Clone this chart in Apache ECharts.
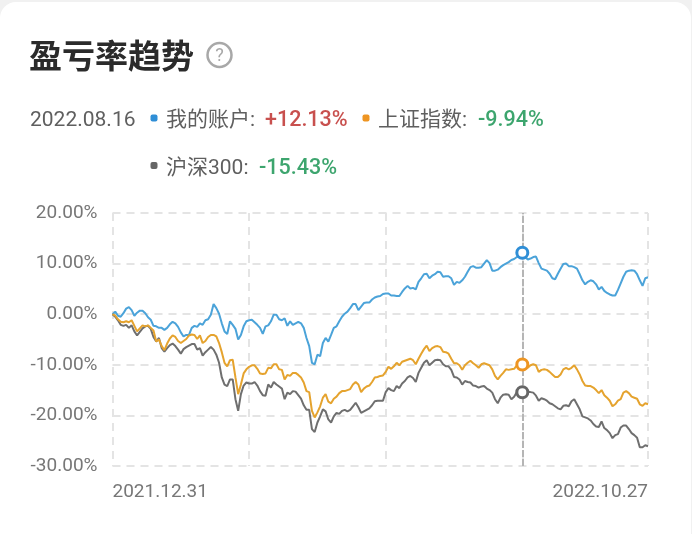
<!DOCTYPE html>
<html><head><meta charset="utf-8">
<style>html,body{margin:0;padding:0;background:#f1f1f1}#c{width:692px;height:534px}</style>
<script src="https://cdn.jsdelivr.net/npm/echarts@6/dist/echarts.min.js"></script>
</head><body><div id="c"></div>
<script>
const titleText='盈亏率趋势';
const selectedDate='2022.08.16';
const seriesNames=['我的账户','上证指数','沪深300'];
const selectedLabels=['+12.13%','-9.94%','-15.43%'];
const firstDate='2021.12.31', lastDate='2022.10.27';
const selectedIndex=150;
const yTicksMin=-30, yTicksMax=20, yStep=10;
const account=[0,0.5,-0.3,-0.5,0.2,1.1,1.4,0.8,-0.3,0.3,
0.7,0.7,0.2,-0.6,-1.1,-2.3,-2.4,-2.7,-2.7,-3.1,
-2.7,-2.0,-1.5,-1.8,-2.5,-3.6,-4.4,-4.1,-4.1,-2.7,
-2.3,-2.5,-1.8,-2.1,-1.2,-1.0,-0.1,2.0,1.2,0.1,
-1.8,-3.4,-3.9,-1.4,-2.1,-2.9,-5.0,-4.1,-2.4,-1.4,
-1.2,-1.1,-1.6,-2.1,-2.7,-3.9,-2.4,-2.2,-1.4,-0.1,
-0.1,-1.0,-1.2,-0.8,-2.3,-1.4,-2.1,-1.8,-1.5,-1.8,
-2.7,-4.7,-6.3,-9.6,-9.9,-8.0,-8.3,-5.7,-4.7,-5.4,
-4.1,-2.7,-2.4,-1.4,-0.5,0.1,0.5,1.2,2.0,2.0,
0.8,1.5,2.2,2.3,2.3,2.9,3.3,3.5,
3.6,4.0,4.1,4.1,3.7,3.7,3.6,3.6,4.4,5.1,5.6,5.1,5.2,4.9,6.4,7.1,7.9,8.0,7.1,7.6,7.9,8.4,8.3,7.4,7.5,7.5,7.1,5.8,6.4,6.2,6.7,7.4,8.4,9.3,9.5,9.2,9.2,9.3,10.0,10.7,10.1,8.6,8.6,8.8,9.3,9.7,10.0,10.3,10.7,10.9,11.3,11.7,12.13,
11.3,10.8,11.0,11.3,11.4,10.1,9.0,8.8,8.6,8.0,7.1,6.9,8.0,9.0,9.9,10.0,9.5,9.5,9.3,9.0,7.9,6.7,5.9,6.4,6.7,6.5,5.9,4.9,5.4,4.6,4.2,3.9,3.7,3.7,4.8,6.1,7.4,8.4,8.6,8.7,8.6,7.9,6.7,5.6,7.1,7.3];
const shanghai=[0,-0.3,-1.0,-1.5,-1.6,-1.4,-1.6,-1.2,-2.3,-3.4,
-2.8,-2.2,-2.4,-2.2,-2.7,-3.2,-5.4,-5.0,-6.3,-7.1,
-5.8,-4.8,-4.2,-4.5,-5.3,-5.7,-5.3,-4.9,-4.2,-4.0,
-4.1,-4.9,-4.2,-5.7,-5.3,-4.5,-4.1,-4.1,-4.4,-5.7,
-7.5,-9.6,-10.3,-9.1,-9.0,-12.5,-15.8,-13.9,-11.7,-10.9,
-10.4,-10.1,-10.1,-10.8,-11.7,-11.8,-11.7,-10.6,-10.7,-9.9,
-9.9,-10.9,-11.0,-12.9,-12.0,-12.2,-11.6,-11.6,-12.0,-12.5,
-13.5,-15.2,-15.4,-19.1,-20.4,-19.4,-18.2,-16.5,-15.8,-17.3,
-17.6,-16.7,-16.3,-15.6,-15.2,-15.2,-15.0,-14.8,-13.9,-13.4,
-13.9,-15.4,-14.7,-14.3,-14.1,-13.4,-12.5,-12.4,
-12.2,-12.1,-11.4,-10.4,-10.8,-10.3,-9.6,-10.1,-9.4,-9.2,-9.0,-8.8,-9.1,-9.9,-8.8,-7.8,-6.9,-6.2,-7.3,-6.7,-6.4,-6.3,-6.5,-7.4,-7.5,-7.8,-8.8,-9.7,-9.7,-10.1,-11.0,-10.1,-9.6,-9.2,-9.7,-10.1,-10.6,-9.9,-9.7,-9.9,-10.1,-10.9,-12.2,-12.9,-12.2,-11.6,-10.9,-11.0,-10.9,-10.8,-10.1,-9.9,-9.94,
-10.3,-10.6,-10.1,-9.9,-10.1,-11.4,-11.0,-10.9,-11.0,-11.4,-11.9,-12.4,-12.4,-11.9,-10.9,-10.6,-10.9,-10.6,-10.1,-10.9,-11.9,-13.2,-14.1,-14.2,-14.2,-14.5,-15.0,-15.6,-15.0,-16.0,-16.5,-17.1,-18.2,-17.8,-17.1,-16.8,-15.5,-15.2,-15.6,-16.3,-16.5,-16.7,-17.8,-18.1,-17.6,-17.8];
const csi300=[0,-0.5,-1.2,-2.1,-2.3,-2.1,-2.7,-2.2,-3.4,-4.2,
-3.5,-2.8,-2.4,-2.3,-2.9,-4.5,-5.4,-4.7,-6.7,-7.4,
-6.7,-6.1,-5.8,-6.3,-7.0,-7.8,-6.9,-6.5,-6.2,-5.9,
-5.9,-7.0,-6.7,-8.2,-7.5,-7.0,-6.5,-7.0,-8.0,-9.6,
-12.5,-13.9,-14.2,-12.9,-12.9,-16.8,-19.1,-15.8,-14.1,-13.5,
-13.7,-13.7,-13.4,-14.1,-15.2,-16.0,-16.1,-13.9,-14.5,-13.4,
-13.9,-14.3,-14.7,-16.8,-15.5,-15.8,-15.2,-15.3,-16.0,-16.7,
-18.0,-18.9,-18.9,-22.7,-23.3,-21.4,-20.2,-18.8,-19.2,-20.8,
-21.4,-20.2,-19.5,-19.7,-19.1,-18.9,-19.2,-18.9,-18.2,-17.5,
-18.4,-19.5,-19.2,-18.9,-18.6,-18.0,-17.2,-17.1,
-17.1,-17.1,-15.4,-14.6,-15.0,-15.2,-14.2,-14.6,-13.7,-13.2,-12.5,-12.2,-12.6,-13.4,-11.6,-10.6,-9.6,-9.1,-10.1,-9.6,-9.1,-9.0,-9.1,-9.9,-10.3,-10.3,-11.0,-12.4,-12.5,-12.9,-13.9,-13.2,-13.4,-13.5,-14.1,-14.2,-14.5,-14.3,-14.2,-14.7,-15.0,-15.5,-16.8,-17.6,-16.5,-15.9,-15.8,-15.9,-16.8,-16.3,-15.4,-15.1,-15.43,
-15.6,-15.4,-15.4,-15.5,-16.1,-17.1,-16.6,-16.8,-17.1,-17.6,-17.8,-18.2,-18.6,-18.8,-18.1,-18.0,-18.2,-17.2,-16.8,-17.8,-18.8,-20.2,-20.4,-20.6,-21.0,-21.7,-22.2,-22.3,-21.2,-22.5,-22.9,-23.5,-24.5,-23.9,-23.7,-22.4,-22.0,-22.0,-22.7,-23.5,-23.9,-24.4,-26.3,-26.3,-25.9,-26.1];

const BLUE='#4ba3d9',ORANGE='#e5a32e',GREY='#6f6f6f',RED='#c8504e',GREEN='#3da56e',TXT='#5f5f5f';
const UI='"Roboto","Noto Sans CJK SC",sans-serif';
const last=account.length-1;
const cats=account.map((_,i)=>i===0?firstDate:i===last?lastDate:String(i));
const chart=echarts.init(document.getElementById('c'),null,{renderer:'canvas'});
function txt(x,y,t,size,color,weight){return {type:'text',x,y,z:10,style:{text:t,fontSize:size,fill:color,fontWeight:weight||'normal',fontFamily:UI,verticalAlign:'middle',align:'left'}};}
function sq(x,y,c){return {type:'rect',z:10,shape:{x,y,width:7,height:7,r:2},style:{fill:c}};}
function mk(name,vals,c,mc){return {type:'line',name,data:vals,showSymbol:false,symbol:'none',smooth:false,animation:false,
  lineStyle:{color:c,width:2},itemStyle:{color:c},
  markPoint:{animation:false,silent:true,symbol:'circle',symbolSize:11,label:{show:false},
    itemStyle:{color:'#fff',borderColor:mc,borderWidth:3},
    data:[{coord:[selectedIndex,vals[selectedIndex]]}]}};}
const s=[mk(seriesNames[0],account,BLUE,'#2f8ed6'),mk(seriesNames[2],csi300,GREY,'#666'),mk(seriesNames[1],shanghai,ORANGE,'#ee9522')];
s[0].markLine={animation:false,silent:true,symbol:'none',label:{show:false},lineStyle:{color:'#b5b5b5',width:2,type:[7,2]},data:[{xAxis:selectedIndex}]};
chart.setOption({
  animation:false,
  backgroundColor:'transparent',
  graphic:[
    {type:'rect',z:0,shape:{x:0,y:2,width:691,height:580,r:16},style:{fill:'#fff'}},
    txt(29,60,titleText,33,'#2b2b2b','bold'),
    {type:'circle',z:10,shape:{cx:219.5,cy:55,r:12},style:{fill:'none',stroke:'#a8a8a8',lineWidth:2.5}},
    {type:'text',x:219.5,y:56,z:10,style:{text:'?',fontSize:18,fill:'#a8a8a8',fontFamily:UI,align:'center',verticalAlign:'middle'}},
    txt(30,121,selectedDate,21,TXT),
    sq(150.5,114.5,'#2f8ed6'),
    txt(166,121,seriesNames[0]+':',21,TXT),
    txt(265,121,selectedLabels[0],21.5,RED,500),
    sq(362.5,114.5,'#ee9522'),
    txt(378,121,seriesNames[1]+':',21,TXT),
    txt(478,121,selectedLabels[1],21.5,GREEN,500),
    sq(150.5,162,'#666'),
    txt(166,169,seriesNames[2]+':',21,TXT),
    txt(259,169,selectedLabels[2],21.5,GREEN,500)
  ],
  grid:{left:112.5,right:44,top:213,bottom:68,containLabel:false},
  xAxis:{type:'category',data:cats,boundaryGap:false,
    axisLine:{show:false},axisTick:{show:false},
    axisLabel:{interval:(i)=>i===0||i===last,color:'#777',fontSize:19,fontFamily:UI,margin:17,alignMinLabel:'left',alignMaxLabel:'right',showMinLabel:true,showMaxLabel:true},
    splitLine:{show:true,interval:(i)=>i%50===0||i===last,lineStyle:{color:'#e4e4e4',width:2,type:[8,6]}}},
  yAxis:{type:'value',min:yTicksMin,max:yTicksMax,interval:yStep,
    axisLine:{show:false},axisTick:{show:false},
    axisLabel:{formatter:(v)=>v.toFixed(2)+'%',color:'#777',fontSize:19,fontFamily:UI,margin:15},
    splitLine:{show:true,lineStyle:{color:'#e4e4e4',width:2,type:[8,6]}}},
  series:s
});
</script></body></html>
